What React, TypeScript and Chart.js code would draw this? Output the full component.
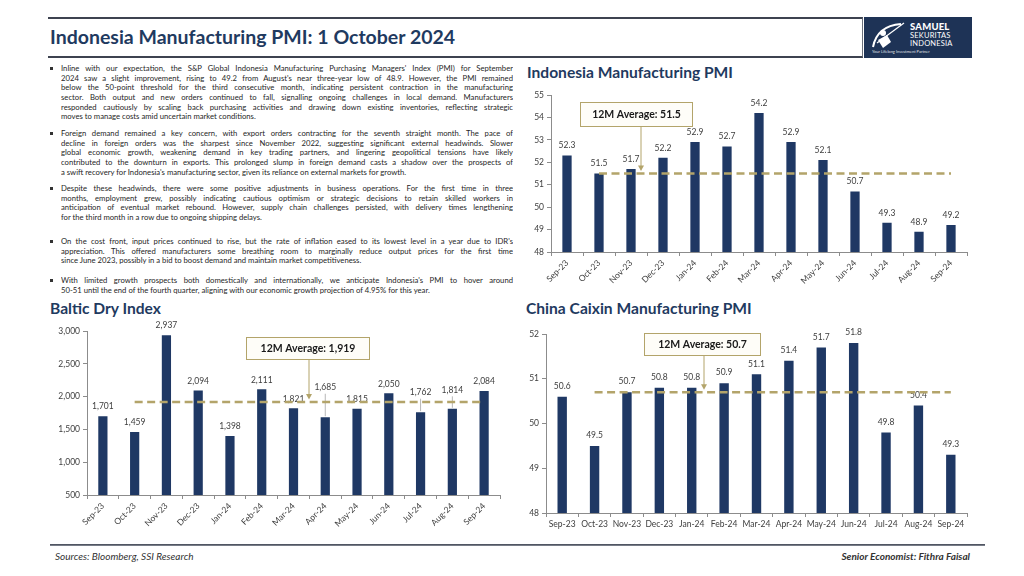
import React, { useEffect, useRef } from "react";
import { Chart, registerables } from "chart.js";
Chart.register(...registerables);

const months = ["Sep-23", "Oct-23", "Nov-23", "Dec-23", "Jan-24", "Feb-24", "Mar-24", "Apr-24", "May-24", "Jun-24", "Jul-24", "Aug-24", "Sep-24"];
const indonesiaPmi = [52.3, 51.5, 51.7, 52.2, 52.9, 52.7, 54.2, 52.9, 52.1, 50.7, 49.3, 48.9, 49.2];
const indonesiaPmiAverage = 51.5;
const balticDryIndex = [1701, 1459, 2937, 2094, 1398, 2111, 1821, 1685, 1815, 2050, 1762, 1814, 2084];
const balticDryAverage = 1919;
const caixinPmi = [50.6, 49.5, 50.7, 50.8, 50.8, 50.9, 51.1, 51.4, 51.7, 51.8, 49.8, 50.4, 49.3];
const caixinPmiAverage = 50.7;
const averageStartIndex = 1;

const NAVY = "#1f3864";
const TITLE = "#1f3a60";
const KHAKI = "#b3a46a";
const AXIS = "#8c8c8c";
const TEXT = "#404040";
const FONT = "Lato, 'Open Sans', sans-serif";

const paragraphs: string[][] = [
  [
    "Inline with our expectation, the S&P Global Indonesia Manufacturing Purchasing Managers' Index (PMI) for September",
    "2024 saw a slight improvement, rising to 49.2 from August's near three-year low of 48.9. However, the PMI remained",
    "below the 50-point threshold for the third consecutive month, indicating persistent contraction in the manufacturing",
    "sector. Both output and new orders continued to fall, signalling ongoing challenges in local demand. Manufacturers",
    "responded cautiously by scaling back purchasing activities and drawing down existing inventories, reflecting strategic",
    "moves to manage costs amid uncertain market conditions.",
  ],
  [
    "Foreign demand remained a key concern, with export orders contracting for the seventh straight month. The pace of",
    "decline in foreign orders was the sharpest since November 2022, suggesting significant external headwinds. Slower",
    "global economic growth, weakening demand in key trading partners, and lingering geopolitical tensions have likely",
    "contributed to the downturn in exports. This prolonged slump in foreign demand casts a shadow over the prospects of",
    "a swift recovery for Indonesia's manufacturing sector, given its reliance on external markets for growth.",
  ],
  [
    "Despite these headwinds, there were some positive adjustments in business operations. For the first time in three",
    "months, employment grew, possibly indicating cautious optimism or strategic decisions to retain skilled workers in",
    "anticipation of eventual market rebound. However, supply chain challenges persisted, with delivery times lengthening",
    "for the third month in a row due to ongoing shipping delays.",
  ],
  [
    "On the cost front, input prices continued to rise, but the rate of inflation eased to its lowest level in a year due to IDR's",
    "appreciation. This offered manufacturers some breathing room to marginally reduce output prices for the first time",
    "since June 2023, possibly in a bid to boost demand and maintain market competitiveness.",
  ],
  [
    "With limited growth prospects both domestically and internationally, we anticipate Indonesia's PMI to hover around",
    "50-51 until the end of the fourth quarter, aligning with our economic growth projection of 4.95% for this year.",
  ],
];
const paragraphTops = [64, 129, 184, 237, 276];
const BODY_SIZE = 7.7;
const BODY_WIDTH = 452;

type Box = { x: number; y: number; w: number; h: number; arrowX: number };
type Cfg = {
  values: number[];
  avg: number;
  boxText: string;
  min: number;
  max: number;
  step: number;
  fmt: (v: number) => string;
  rotate: number;
  left: number;
  top: number;
  width: number;
  height: number;
  yWidth: number;
  xHeight: number;
  padTop: number;
  padRight: number;
  labelGap: number;
  lifts?: Record<number, number>;
  box: Box;
};

function BarChart({ cfg }: { cfg: Cfg }) {
  const ref = useRef<HTMLCanvasElement | null>(null);
  useEffect(() => {
    if (!ref.current) return;
    const overlay = {
      id: "overlay",
      afterDatasetsDraw(chart: any) {
        const ctx = chart.ctx;
        const meta = chart.getDatasetMeta(0);
        const data = chart.data.datasets[0].data as number[];
        ctx.save();
        ctx.font = `8.5px ${FONT}`;
        ctx.fillStyle = TEXT;
        ctx.textAlign = "center";
        ctx.textBaseline = "middle";
        meta.data.forEach((bar: any, i: number) => {
          const lift = (cfg.lifts && cfg.lifts[i]) || 0;
          const y = bar.y - cfg.labelGap - lift;
          if (lift) {
            ctx.strokeStyle = "#a6a6a6";
            ctx.lineWidth = 0.8;
            ctx.beginPath();
            ctx.moveTo(bar.x, y + 6);
            ctx.lineTo(bar.x, bar.y - 1);
            ctx.stroke();
          }
          ctx.fillText(cfg.fmt(data[i]), bar.x, y);
        });
        const x0 = chart.scales.x.getPixelForValue(averageStartIndex);
        const x1 = chart.scales.x.getPixelForValue(data.length - 1);
        const yl = chart.scales.y.getPixelForValue(cfg.avg);
        ctx.strokeStyle = KHAKI;
        ctx.lineWidth = 2.5;
        ctx.setLineDash([8, 4.5]);
        ctx.beginPath();
        ctx.moveTo(x0, yl);
        ctx.lineTo(x1, yl);
        ctx.stroke();
        ctx.restore();
      },
      afterDraw(chart: any) {
        const ctx = chart.ctx;
        const b = cfg.box;
        const yl = chart.scales.y.getPixelForValue(cfg.avg);
        ctx.save();
        ctx.strokeStyle = KHAKI;
        ctx.fillStyle = KHAKI;
        ctx.lineWidth = 1;
        ctx.beginPath();
        ctx.moveTo(b.arrowX, b.y + b.h);
        ctx.lineTo(b.arrowX, yl - 7);
        ctx.stroke();
        ctx.beginPath();
        ctx.moveTo(b.arrowX - 3, yl - 8);
        ctx.lineTo(b.arrowX + 3, yl - 8);
        ctx.lineTo(b.arrowX, yl - 2.5);
        ctx.closePath();
        ctx.fill();
        ctx.fillStyle = "#fefdf8";
        ctx.fillRect(b.x, b.y, b.w, b.h);
        ctx.strokeStyle = KHAKI;
        ctx.strokeRect(b.x + 0.5, b.y + 0.5, b.w - 1, b.h - 1);
        ctx.fillStyle = "#1a1a1a";
        ctx.font = `bold 10.5px ${FONT}`;
        ctx.textAlign = "center";
        ctx.textBaseline = "middle";
        ctx.fillText(cfg.boxText, b.x + b.w / 2, b.y + b.h / 2 + 0.5);
        ctx.restore();
      },
    };
    const chart = new Chart(ref.current, {
      type: "bar",
      data: {
        labels: months,
        datasets: [
          {
            data: cfg.values,
            backgroundColor: NAVY,
            barPercentage: 0.29,
            categoryPercentage: 1,
          },
        ],
      },
      options: {
        animation: false,
        responsive: false,
        maintainAspectRatio: false,
        layout: { padding: { top: cfg.padTop, right: cfg.padRight, left: 0, bottom: 0 } },
        plugins: { legend: { display: false }, tooltip: { enabled: false } },
        scales: {
          x: {
            grid: { drawOnChartArea: false, drawTicks: true, tickLength: 4, color: AXIS, offset: true },
            border: { color: AXIS, width: 1 },
            ticks: {
              autoSkip: false,
              maxRotation: cfg.rotate,
              minRotation: cfg.rotate,
              color: TEXT,
              font: { size: 8.5, family: FONT },
              padding: 2,
            },
            afterFit: (s: any) => {
              s.height = cfg.xHeight;
            },
          },
          y: {
            min: cfg.min,
            max: cfg.max,
            ticks: {
              stepSize: cfg.step,
              callback: (v: any) => cfg.fmt(Number(v)),
              color: TEXT,
              font: { size: 8.5, family: FONT },
              padding: 3,
            },
            grid: { drawOnChartArea: false, tickLength: 4, color: AXIS },
            border: { color: AXIS, width: 1 },
            afterFit: (s: any) => {
              s.width = cfg.yWidth;
            },
          },
        },
      },
      plugins: [overlay],
    });
    return () => chart.destroy();
  }, [cfg]);
  return (
    <canvas
      ref={ref}
      width={cfg.width}
      height={cfg.height}
      style={{ position: "absolute", left: cfg.left, top: cfg.top, width: cfg.width, height: cfg.height }}
    />
  );
}

const dec1 = (v: number) => (Number.isInteger(v) ? String(v) : v.toFixed(1));
const intFmt = (v: number) => Math.round(v).toLocaleString("en-US");

const indonesiaCfg: Cfg = {
  values: indonesiaPmi,
  avg: indonesiaPmiAverage,
  boxText: "12M Average: 51.5",
  min: 48,
  max: 55,
  step: 1,
  fmt: dec1,
  rotate: 45,
  left: 520,
  top: 85,
  width: 500,
  height: 215,
  yWidth: 31,
  xHeight: 48,
  padTop: 10,
  padRight: 53,
  labelGap: 10,
  box: { x: 60, y: 17, w: 113, h: 25, arrowX: 121 },
};

const balticCfg: Cfg = {
  values: balticDryIndex,
  avg: balticDryAverage,
  boxText: "12M Average: 1,919",
  min: 500,
  max: 3000,
  step: 500,
  fmt: intFmt,
  rotate: 45,
  left: 40,
  top: 320,
  width: 480,
  height: 225,
  yWidth: 47,
  xHeight: 50,
  padTop: 11,
  padRight: 20,
  labelGap: 9.5,
  lifts: { 7: 20, 10: 10, 11: 9 },
  box: { x: 206, y: 17, w: 124, h: 23, arrowX: 269 },
};

const caixinCfg: Cfg = {
  values: caixinPmi,
  avg: caixinPmiAverage,
  boxText: "12M Average: 50.7",
  min: 48,
  max: 52,
  step: 1,
  fmt: dec1,
  rotate: 0,
  left: 520,
  top: 322,
  width: 500,
  height: 222,
  yWidth: 26,
  xHeight: 31,
  padTop: 12,
  padRight: 53,
  labelGap: 10.5,
  box: { x: 124, y: 11, w: 117, h: 23, arrowX: 184 },
};

let measureCtx: CanvasRenderingContext2D | null = null;
function measure(text: string): number {
  if (!measureCtx) measureCtx = document.createElement("canvas").getContext("2d");
  if (!measureCtx) return 0;
  measureCtx.font = `${BODY_SIZE}px ${FONT}`;
  return measureCtx.measureText(text).width;
}

function Paragraph({ lines, top }: { lines: string[]; top: number }) {
  return (
    <div style={{ position: "absolute", left: 61, top, width: BODY_WIDTH }}>
      <div
        style={{
          position: "absolute",
          left: -11,
          top: 3.3,
          width: 3,
          height: 3,
          background: "#333",
        }}
      />
      {lines.map((l, i) => {
        const last = i === lines.length - 1;
        const w = measure(l);
        const limit = BODY_WIDTH - 3;
        const spacing = w > limit ? (limit - w) / l.length : 0;
        return (
          <div
            key={i}
            style={{
              height: 9.7,
              lineHeight: "9.7px",
              fontSize: BODY_SIZE,
              letterSpacing: spacing,
              whiteSpace: last ? "nowrap" : "normal",
              textAlign: last ? "left" : "justify",
              textAlignLast: last ? "left" : "justify",
              overflow: "hidden",
            }}
          >
            {l}
          </div>
        );
      })}
    </div>
  );
}

function Logo() {
  return (
    <div style={{ position: "absolute", left: 864, top: 17, width: 108, height: 41, background: "#1e3356", color: "white" }}>
      <svg width="40" height="30" viewBox="0 0 40 30" style={{ position: "absolute", left: 4, top: 4 }}>
        <path d="M5 26 Q 9 5 33 3" stroke="white" strokeWidth="2" fill="none" />
        <line x1="9" y1="22" x2="36" y2="2" stroke="white" strokeWidth="1.2" />
        <circle cx="15" cy="12" r="3" fill="white" />
        <path d="M10 19 L19 14 L23 21 L15 27 Z" fill="white" />
      </svg>
      <div style={{ position: "absolute", left: 46, top: 5, fontSize: 9.5, fontWeight: 900, lineHeight: "10px", letterSpacing: 0.2 }}>SAMUEL</div>
      <div style={{ position: "absolute", left: 46, top: 14.5, fontSize: 7.5, lineHeight: "8px", letterSpacing: 0.2 }}>SEKURITAS</div>
      <div style={{ position: "absolute", left: 46, top: 22.5, fontSize: 7.5, lineHeight: "8px", letterSpacing: 0.2 }}>INDONESIA</div>
      <div style={{ position: "absolute", left: 8, top: 32, fontSize: 4, lineHeight: "5px", opacity: 0.85 }}>Your Lifelong Investment Partner</div>
    </div>
  );
}

export default function App() {
  return (
    <div
      style={{
        position: "absolute",
        left: 0,
        top: 0,
        width: 1024,
        height: 576,
        background: "white",
        overflow: "hidden",
        fontFamily: FONT,
        color: "#262626",
      }}
    >
      <div
        style={{
          position: "absolute",
          left: 48,
          top: 17,
          width: 814,
          height: 37,
          borderTop: "2px solid #3d4350",
          borderBottom: "2px solid #3d4350",
          borderRight: "1px solid #6a6f7a",
        }}
      />
      <div style={{ position: "absolute", left: 50, top: 24, fontSize: 19.5, fontWeight: 700, lineHeight: "26px", color: TITLE }}>
        Indonesia Manufacturing PMI: 1 October 2024
      </div>
      <Logo />
      {paragraphs.map((p, i) => (
        <Paragraph key={i} lines={p} top={paragraphTops[i]} />
      ))}
      <div style={{ position: "absolute", left: 527, top: 62, fontSize: 15.6, fontWeight: 700, lineHeight: "20px", color: TITLE }}>
        Indonesia Manufacturing PMI
      </div>
      <div style={{ position: "absolute", left: 50, top: 298, fontSize: 15.6, fontWeight: 700, lineHeight: "20px", color: TITLE }}>
        Baltic Dry Index
      </div>
      <div style={{ position: "absolute", left: 526, top: 298, fontSize: 15.6, fontWeight: 700, lineHeight: "20px", color: TITLE }}>
        China Caixin Manufacturing PMI
      </div>
      <BarChart cfg={indonesiaCfg} />
      <BarChart cfg={balticCfg} />
      <BarChart cfg={caixinCfg} />
      <div
        style={{
          position: "absolute",
          left: 50,
          top: 544,
          width: 935,
          height: 2,
          background: "linear-gradient(#3d4350, #8a8f99)",
        }}
      />
      <div style={{ position: "absolute", left: 55, top: 550, fontSize: 10, fontStyle: "italic", color: "#333", lineHeight: "13px" }}>
        Sources: Bloomberg, SSI Research
      </div>
      <div
        style={{
          position: "absolute",
          right: 1024 - 970,
          top: 550,
          fontSize: 10,
          fontStyle: "italic",
          fontWeight: 700,
          color: "#333",
          lineHeight: "13px",
        }}
      >
        Senior Economist: Fithra Faisal
      </div>
    </div>
  );
}
